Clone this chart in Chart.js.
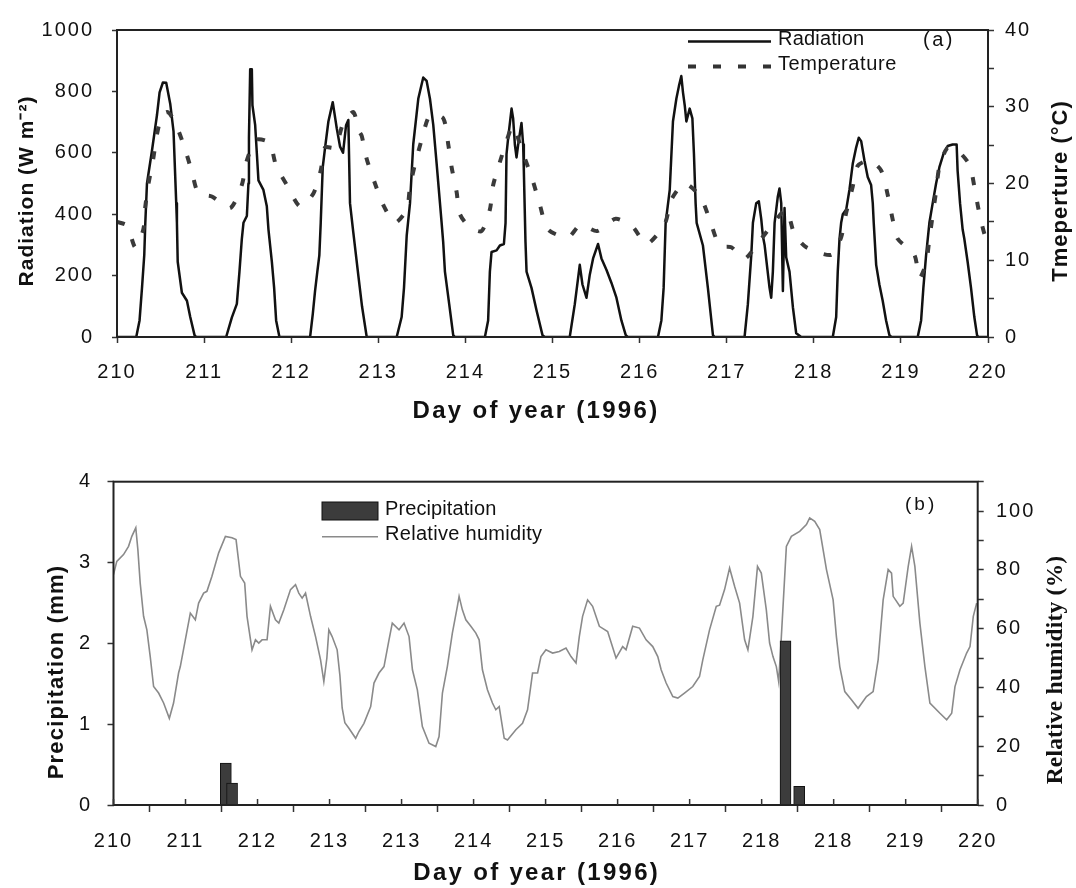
<!DOCTYPE html>
<html><head><meta charset="utf-8">
<script src="https://cdn.jsdelivr.net/npm/chart.js@4.4.1/dist/chart.umd.min.js"></script>
<style>
html,body{margin:0;padding:0;background:#fff;}
body{width:1076px;height:888px;position:relative;overflow:hidden;}
#c1{position:absolute;left:0;top:0;}
#c2{position:absolute;left:0;top:440px;}
</style></head><body>
<canvas id="c1" width="1076" height="440"></canvas>
<canvas id="c2" width="1076" height="448"></canvas>
<script>
// ---------- DATA ----------
const radDays = [210.000,210.221,210.259,210.287,210.313,210.325,210.344,210.401,210.459,210.489,210.527,210.565,210.611,210.649,210.680,210.688,210.697,210.745,210.803,210.841,210.890,210.909,
211.253,211.319,211.376,211.406,211.433,211.452,211.491,211.509,211.515,211.529,211.548,211.555,211.586,211.606,211.624,211.681,211.720,211.739,211.778,211.804,211.827,211.865,
212.217,212.248,212.274,212.300,212.323,212.339,212.362,212.389,212.427,212.477,212.523,212.561,212.595,212.630,212.656,212.675,212.713,212.771,212.813,212.867,
213.211,213.268,213.295,213.326,213.364,213.401,213.459,213.516,213.555,213.593,213.631,213.670,213.708,213.727,213.745,213.765,213.814,213.860,213.880,
214.224,214.261,214.281,214.300,214.358,214.396,214.442,214.461,214.472,214.491,214.530,214.548,214.568,214.587,214.606,214.644,214.663,214.671,214.690,214.702,214.759,214.817,214.885,214.911,
215.198,215.256,215.313,215.344,215.390,215.428,215.466,215.523,215.562,215.619,215.677,215.734,215.791,215.841,215.864,
216.211,216.250,216.276,216.299,216.346,216.383,216.422,216.452,216.479,216.498,216.518,216.537,216.575,216.606,216.624,216.643,216.655,216.727,216.784,216.842,216.862,
217.205,217.243,217.282,217.301,217.339,217.369,217.397,217.415,217.435,217.492,217.511,217.530,217.550,217.587,217.606,217.626,217.645,217.664,217.683,217.721,217.760,217.798,217.856,
218.218,218.257,218.275,218.295,218.314,218.333,218.372,218.409,218.447,218.486,218.516,218.544,218.582,218.619,218.658,218.677,218.688,218.716,218.753,218.791,218.830,218.868,218.891,
219.193,219.232,219.258,219.289,219.327,219.365,219.404,219.442,219.488,219.537,219.594,219.640,219.651,219.679,219.709,219.728,219.766,219.805,219.843,219.874,219.889,220.000];
const radWm2 = [0,0,54,160,267,372,500,606,723,797,829,828,760,670,436,372,245,144,118,65,6,0,
0,64,108,213,319,372,394,500,649,872,872,755,691,596,510,479,426,350,245,160,54,0,
0,75,150,213,266,372,553,617,702,765,680,620,600,690,707,436,341,200,100,0,
0,65,160,330,436,627,776,845,834,776,691,564,436,372,309,213,107,6,0,
0,54,213,277,282,298,303,372,596,649,744,712,627,585,627,697,627,542,309,213,160,86,6,0,
0,107,235,171,128,203,256,303,256,219,176,128,54,6,0,
0,54,160,372,479,702,776,818,850,797,755,702,744,712,596,436,372,298,160,6,0,
0,107,266,372,436,442,383,330,300,160,128,213,372,458,484,436,150,420,260,213,97,12,0,
0,65,213,319,372,400,415,479,564,617,649,638,574,521,495,436,372,235,171,118,54,6,0,
0,54,160,266,372,436,500,553,596,622,627,627,542,436,350,320,245,160,65,6,0,0];

const tempDays = [210.000,210.115,210.210,210.302,210.325,210.362,210.413,210.459,210.516,210.585,210.669,210.775,210.860,210.936,211.089,211.299,211.433,211.491,211.597,211.750,211.827,211.950,
212.103,212.255,212.339,212.389,212.503,212.599,212.713,212.779,212.810,212.867,212.962,213.057,213.191,213.326,213.364,213.421,213.498,213.593,213.745,213.803,213.842,213.899,213.937,
214.052,214.186,214.281,214.319,214.396,214.472,214.545,214.644,214.778,214.855,214.950,215.179,215.321,215.512,215.726,215.924,216.078,216.288,216.365,216.517,216.696,216.804,216.919,
217.053,217.205,217.377,217.549,217.683,217.778,217.913,218.200,218.314,218.372,218.447,218.504,218.638,218.773,218.849,218.906,218.963,219.155,219.213,219.289,219.327,219.404,219.442,
219.530,219.620,219.785,219.843,219.892,219.957,220.000];
const tempC = [15.0,14.5,11.7,14.0,17.0,20.0,23.0,26.4,28.9,29.3,27.9,24.7,21.5,18.7,18.3,16.8,19.8,23.0,25.7,25.3,22.3,19.8,
17.0,18.7,21.7,24.7,24.7,27.9,29.3,26.8,26.2,23.2,20.0,17.2,14.9,16.6,19.6,22.5,25.7,28.9,28.5,25.1,22.1,18.9,16.0,
14.3,13.8,16.6,19.8,22.8,25.5,27.5,24.5,20.2,17.2,14.0,13.0,14.6,13.8,15.4,14.3,12.1,14.7,17.9,20.0,18.3,15.3,11.9,
11.7,10.2,12.5,15.0,16.6,13.4,11.7,10.7,13.0,16.2,19.6,22.3,23.0,21.7,18.5,15.3,12.8,10.7,7.7,9.6,12.8,19.0,22.2,
24.6,24.6,22.5,19.6,16.6,13.5,12.5];

const rhDays = [210.000,210.038,210.116,210.174,210.212,210.258,210.282,210.309,210.348,210.386,210.425,210.464,210.522,210.580,210.646,210.695,210.753,210.773,210.831,210.889,210.947,210.985,
211.043,211.081,211.139,211.217,211.295,211.371,211.418,211.469,211.518,211.545,211.603,211.643,211.681,211.719,211.777,211.816,211.874,211.913,211.971,
212.048,212.106,212.144,212.183,212.222,212.280,212.338,212.396,212.434,212.469,212.492,212.530,212.588,212.620,212.646,212.677,212.724,212.802,212.840,212.898,212.976,
213.014,213.072,213.130,213.188,213.226,213.304,213.362,213.420,213.459,213.516,213.574,213.651,213.729,213.767,213.806,213.863,213.921,213.979,213.999,
214.037,214.077,214.135,214.193,214.231,214.269,214.327,214.385,214.424,214.463,214.521,214.559,214.656,214.733,214.791,214.849,214.907,214.946,
215.004,215.081,215.158,215.236,215.294,215.352,215.390,215.428,215.486,215.544,215.622,215.718,215.815,215.892,215.931,
216.008,216.086,216.163,216.240,216.298,216.337,216.395,216.472,216.530,216.607,216.703,216.781,216.819,216.897,216.975,
217.013,217.071,217.129,217.187,217.245,217.303,217.341,217.399,217.452,217.496,217.554,217.592,217.631,217.670,217.697,217.728,217.786,217.844,217.940,
218.018,218.056,218.114,218.172,218.250,218.327,218.365,218.404,218.462,218.539,218.616,218.713,218.790,218.848,218.906,218.964,
219.003,219.022,219.099,219.138,219.196,219.235,219.273,219.331,219.389,219.447,219.563,219.641,219.699,219.737,219.795,219.872,219.911,219.949,219.988];
const rhPct = [78.4,82.9,85.2,88.0,91.4,94.3,86.9,75.5,64.2,59.6,50.5,40.3,38.1,34.7,29.5,34.7,44.9,47.1,56.2,65.3,63.0,68.7,
72.1,72.7,77.8,85.8,91.4,90.9,90.3,77.8,75.5,64.2,52.8,56.2,55.1,56.2,56.2,67.6,63.0,61.9,66.4,
73.3,75.0,72.1,70.4,72.1,64.2,57.3,49.4,42.0,50.0,59.6,57.3,52.8,44.0,33.0,28.0,26.1,22.7,25.0,27.8,33.5,
41.5,44.9,47.1,56.2,61.9,59.6,61.9,57.3,46.0,39.2,26.7,21.0,19.9,23.3,38.1,47.1,58.5,67.6,71.0,
66.4,63.0,60.8,58.5,56.2,46.0,39.2,34.7,32.4,33.5,22.7,22.1,25.6,27.8,32.4,44.9,44.9,50.5,
52.8,51.7,52.2,53.4,50.5,48.3,57.3,64.2,69.8,67.6,60.8,59.0,50.0,53.9,52.8,
60.8,60.2,56.2,53.9,50.5,46.0,41.5,36.9,36.4,38.1,40.3,43.7,49.4,59.6,67.6,
68.0,73.3,80.6,74.4,68.7,56.2,52.8,64.2,81.2,78.9,66.4,55.1,50.5,47.1,42.0,57.3,88.0,91.4,93.1,
95.4,97.7,96.5,93.7,80.1,69.8,57.3,47.1,38.6,35.8,32.9,36.9,38.6,49.4,69.8,80.1,
78.9,71.0,67.6,68.7,81.2,88.0,81.2,61.9,47.1,34.7,31.2,29.0,31.2,40.3,46.0,51.7,53.9,64.2,68.7];

const precipDays = [211.300, 211.372, 217.776, 217.934];
const precipMm = [0.52, 0.27, 2.03, 0.23];

const topXTickLabels = ['210','211','212','213','214','215','216','217','218','219','220'];
const bottomXTickLabels = ['210','211','212','213','213','214','215','216','217','218','218','219','220'];

// ---------- helpers ----------
const SANS = '"Liberation Sans", Arial, sans-serif';
const SERIF = '"Liberation Serif", "Times New Roman", serif';
const pts = (xs, ys) => xs.map((x, i) => ({x: x, y: ys[i]}));

function txt(ctx, s, x, y, font, spacing, align, rot) {
  ctx.save();
  ctx.font = font;
  ctx.letterSpacing = spacing + 'px';
  ctx.fillStyle = '#111';
  ctx.textAlign = align || 'left';
  ctx.textBaseline = 'alphabetic';
  ctx.translate(x, y);
  if (rot) ctx.rotate(rot);
  ctx.fillText(s, 0, 0);
  ctx.restore();
}

const framePlugin = {
  id: 'frame',
  beforeDraw(chart) { chart.ctx.letterSpacing = '2px'; },
  afterDatasetsDraw(chart) {
    const a = chart.chartArea, ctx = chart.ctx;
    ctx.save();
    ctx.strokeStyle = '#222';
    ctx.lineWidth = 2;
    ctx.strokeRect(a.left, a.top, a.right - a.left, a.bottom - a.top);
    ctx.restore();
  }
};

const tickFont = {family: SANS, size: 20};
function gridOpts(len) {
  return {display: true, drawOnChartArea: false, drawTicks: true, tickLength: len, tickColor: '#333', tickWidth: 1.5};
}

// ---------- TOP CHART ----------
const topDecor = {
  id: 'topDecor',
  afterDraw(chart) {
    const ctx = chart.ctx;
    txt(ctx, 'Radiation (W m\u207B\u00B2)', 32.5, 191, 'bold 21px ' + SANS, 1, 'center', -Math.PI / 2);
    txt(ctx, 'Tmeperture (\u00B0C)', 1066.5, 191, 'bold 22px ' + SANS, 1, 'center', -Math.PI / 2);
    txt(ctx, 'Day of year (1996)', 536, 418, 'bold 24px ' + SANS, 2.3, 'center');
    // legend
    ctx.save();
    ctx.strokeStyle = '#111'; ctx.lineWidth = 2.5;
    ctx.beginPath(); ctx.moveTo(688, 41.5); ctx.lineTo(771, 41.5); ctx.stroke();
    ctx.strokeStyle = '#333'; ctx.lineWidth = 4; ctx.setLineDash([8, 17]);
    ctx.beginPath(); ctx.moveTo(688, 66.5); ctx.lineTo(772, 66.5); ctx.stroke();
    ctx.restore();
    txt(ctx, 'Radiation', 778, 45, '20px ' + SANS, 0.2, 'left');
    txt(ctx, 'Temperature', 778, 70, '20px ' + SANS, 0.6, 'left');
    txt(ctx, '(a)', 923, 46, '20px ' + SANS, 2.5, 'left');
  }
};

new Chart(document.getElementById('c1'), {
  type: 'line',
  data: {
    datasets: [
      {label: 'Radiation', data: pts(radDays, radWm2), yAxisID: 'y', borderColor: '#111', borderWidth: 2.5,
       pointRadius: 0, tension: 0, borderJoinStyle: 'round', order: 1},
      {label: 'Temperature', data: pts(tempDays, tempC), yAxisID: 'y1', borderColor: '#3a3a3a', borderWidth: 4,
       borderDash: [8, 17], pointRadius: 0, tension: 0.25, borderCapStyle: 'butt', order: 0}
    ]
  },
  options: {
    responsive: false, animation: false, events: [],
    layout: {padding: {left: 0, right: 0, top: 23, bottom: 0}},
    plugins: {legend: {display: false}, tooltip: {enabled: false}},
    scales: {
      x: {type: 'linear', min: 210, max: 220, offset: false,
          ticks: {stepSize: 1, autoSkip: false, maxRotation: 0, minRotation: 0, padding: 17, font: tickFont, color: '#111',
                  callback: (v, i) => topXTickLabels[i]},
          grid: gridOpts(6), border: {display: false},
          afterFit: s => { s.height = 103; }},
      y: {position: 'left', min: 0, max: 1000,
          ticks: {stepSize: 200, padding: 18, font: tickFont, color: '#111', callback: v => String(v)},
          grid: gridOpts(5), border: {display: false},
          afterFit: s => { s.width = 117; }},
      y1: {position: 'right', min: 0, max: 40,
          ticks: {stepSize: 5, padding: 11, font: tickFont, color: '#111', callback: v => (v % 10 === 0 ? String(v) : '')},
          grid: gridOpts(6), border: {display: false},
          afterFit: s => { s.width = 88; }}
    }
  },
  plugins: [framePlugin, topDecor]
});

// ---------- BOTTOM CHART ----------
const botDecor = {
  id: 'botDecor',
  afterDraw(chart) {
    const ctx = chart.ctx, a = chart.chartArea, xs = chart.scales.x;
    // inner halves of the crossing x ticks
    ctx.save();
    ctx.strokeStyle = '#333'; ctx.lineWidth = 1.5;
    xs.ticks.forEach(t => {
      const px = xs.getPixelForValue(t.value);
      ctx.beginPath(); ctx.moveTo(px, a.bottom); ctx.lineTo(px, a.bottom - 6); ctx.stroke();
    });
    ctx.restore();
    txt(ctx, 'Precipitation (mm)', 62.5, 232, 'bold 22px ' + SANS, 1.2, 'center', -Math.PI / 2);
    txt(ctx, 'Relative humidity (%)', 1061.5, 230, 'bold 23.5px ' + SERIF, 0.2, 'center', -Math.PI / 2);
    txt(ctx, 'Day of year (1996)', 536.7, 440, 'bold 24px ' + SANS, 2.3, 'center');
    // legend
    ctx.save();
    ctx.fillStyle = '#3c3c3c'; ctx.strokeStyle = '#111'; ctx.lineWidth = 1;
    ctx.fillRect(322, 62, 56, 18); ctx.strokeRect(322, 62, 56, 18);
    ctx.strokeStyle = '#8a8a8a'; ctx.lineWidth = 1.5;
    ctx.beginPath(); ctx.moveTo(322, 96.7); ctx.lineTo(378, 96.7); ctx.stroke();
    ctx.restore();
    txt(ctx, 'Precipitation', 385, 75, '20px ' + SANS, 0.1, 'left');
    txt(ctx, 'Relative humidity', 385, 100, '20px ' + SANS, 0.3, 'left');
    txt(ctx, '(b)', 905, 69.5, '19px ' + SANS, 3, 'left');
  }
};

new Chart(document.getElementById('c2'), {
  type: 'line',
  data: {
    datasets: [
      {type: 'bar', label: 'Precipitation', data: pts(precipDays, precipMm), yAxisID: 'y',
       backgroundColor: '#3c3c3c', borderColor: '#111', borderWidth: 1, barThickness: 11, grouped: false, order: 0},
      {type: 'line', label: 'Relative humidity', data: pts(rhDays, rhPct), yAxisID: 'y1',
       borderColor: '#8a8a8a', borderWidth: 1.6, pointRadius: 0, tension: 0, order: 1}
    ]
  },
  options: {
    responsive: false, animation: false, events: [],
    layout: {padding: {left: 0, right: 0, top: 41.7, bottom: 0}},
    plugins: {legend: {display: false}, tooltip: {enabled: false}},
    scales: {
      x: {type: 'linear', min: 210, max: 220, offset: false,
          afterBuildTicks: axis => {
            const n = bottomXTickLabels.length;
            axis.ticks = bottomXTickLabels.map((l, i) => ({value: axis.min + i * (axis.max - axis.min) / (n - 1)}));
          },
          ticks: {autoSkip: false, maxRotation: 0, minRotation: 0, padding: 17, font: tickFont, color: '#111',
                  callback: (v, i) => bottomXTickLabels[i]},
          grid: gridOpts(7), border: {display: false},
          afterFit: s => { s.height = 83; }},
      y: {position: 'left', min: 0, max: 4,
          ticks: {stepSize: 1, padding: 15.5, font: tickFont, color: '#111', callback: v => String(v)},
          grid: gridOpts(6), border: {display: false},
          afterFit: s => { s.width = 113.5; }},
      y1: {position: 'right', min: 0, max: 110,
          ticks: {stepSize: 10, padding: 12.3, font: tickFont, color: '#111',
                  callback: v => (v % 20 === 0 && v <= 100 ? String(v) : '')},
          grid: gridOpts(6), border: {display: false},
          afterFit: s => { s.width = 98.3; }}
    }
  },
  plugins: [framePlugin, botDecor]
});
</script>
</body></html>
